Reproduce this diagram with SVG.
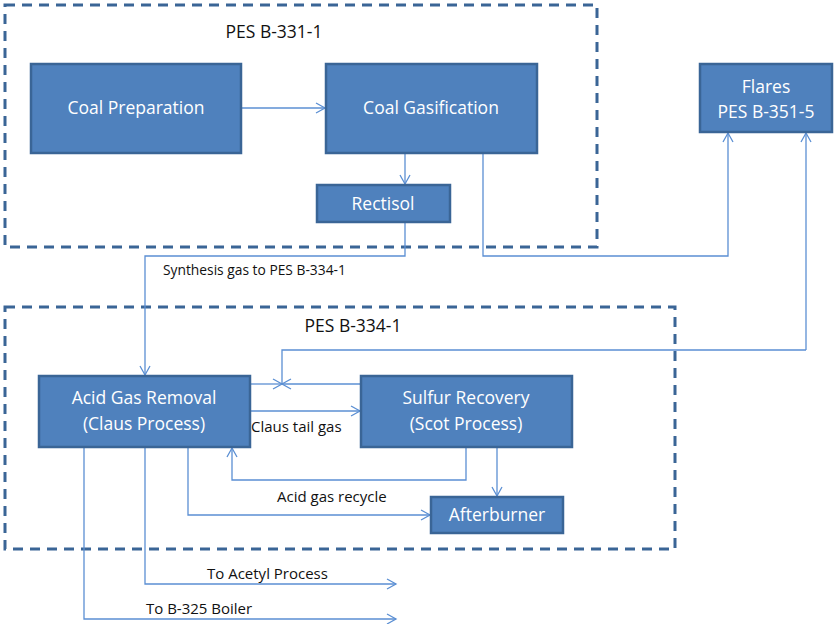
<svg xmlns="http://www.w3.org/2000/svg" width="834" height="624" viewBox="0 0 834 624">
<defs>
<marker id="arr" markerWidth="12" markerHeight="12" refX="10" refY="6" orient="auto" markerUnits="userSpaceOnUse">
<path d="M1,1 L10,6 L1,11" fill="none" stroke="#5B8FD3" stroke-width="1.3"/>
</marker>
<style>
.box{fill:#4F81BD;stroke:#3A6596;stroke-width:2.5}
.bt{fill:#fff;font-family:"Open Sans","Liberation Sans",sans-serif;font-size:17.5px;text-anchor:middle}
.grp{fill:none;stroke:#3A6596;stroke-width:3;stroke-dasharray:10,7}
.gt{fill:#111;font-family:"Open Sans","Liberation Sans",sans-serif;font-size:17.5px;text-anchor:middle}
.lbl{fill:#111;font-family:"Open Sans","Liberation Sans",sans-serif;font-size:15px}
.c{fill:none;stroke:#5B8FD3;stroke-width:1.3}
.ca{fill:none;stroke:#5B8FD3;stroke-width:1.3;marker-end:url(#arr)}
</style>
</defs>
<rect width="834" height="624" fill="#fff"/>
<g id="group-b331">
<rect class="grp" x="5" y="5" width="592" height="242"/>
<text class="gt" x="274" y="38">PES B-331-1</text>
</g>
<g id="group-b334">
<rect class="grp" x="5" y="307" width="670" height="242"/>
<text class="gt" x="353" y="332">PES B-334-1</text>
</g>
<g id="connectors">
<path class="ca" d="M241,108 H325"/>
<path class="ca" d="M405,153 V184"/>
<path class="ca" d="M405,222 V256 H145 V375"/>
<path class="ca" d="M483,153 V256 H728 V133"/>
<path class="ca" d="M806,350 V133"/>
<path class="c" d="M806,350 H282 V384"/>
<path class="ca" d="M250,384 H282"/>
<path class="ca" d="M361,384 H282"/>
<path class="ca" d="M250,411 H360"/>
<path class="ca" d="M466,447 V480 H232 V448"/>
<path class="ca" d="M497,447 V496"/>
<path class="ca" d="M188,447 V515 H430"/>
<path class="ca" d="M145,447 V584 H396"/>
<path class="ca" d="M84,447 V619 H396"/>
<text class="lbl" x="163" y="275" style="font-size:13.8px">Synthesis gas to PES B-334-1</text>
<text class="lbl" x="251" y="432">Claus tail gas</text>
<text class="lbl" x="277" y="502">Acid gas recycle</text>
<text class="lbl" x="207" y="579">To Acetyl Process</text>
<text class="lbl" x="146" y="614">To B-325 Boiler</text>
</g>
<g id="coal-preparation">
<rect class="box" x="31" y="64" width="210" height="89"/>
<text class="bt" x="136" y="114">Coal Preparation</text>
</g>
<g id="coal-gasification">
<rect class="box" x="326" y="64" width="211" height="89"/>
<text class="bt" x="431" y="114">Coal Gasification</text>
</g>
<g id="rectisol">
<rect class="box" x="317" y="185" width="133" height="37"/>
<text class="bt" x="383" y="210">Rectisol</text>
</g>
<g id="flares">
<rect class="box" x="700" y="64" width="132" height="68"/>
<text class="bt" x="766" y="93">Flares</text>
<text class="bt" x="766" y="118">PES B-351-5</text>
</g>
<g id="acid-gas-removal">
<rect class="box" x="39" y="376" width="211" height="71"/>
<text class="bt" x="144" y="404">Acid Gas Removal</text>
<text class="bt" x="144" y="430">(Claus Process)</text>
</g>
<g id="sulfur-recovery">
<rect class="box" x="361" y="376" width="211" height="71"/>
<text class="bt" x="466" y="404">Sulfur Recovery</text>
<text class="bt" x="466" y="430">(Scot Process)</text>
</g>
<g id="afterburner">
<rect class="box" x="431" y="497" width="132" height="36"/>
<text class="bt" x="497" y="521">Afterburner</text>
</g>
</svg>
